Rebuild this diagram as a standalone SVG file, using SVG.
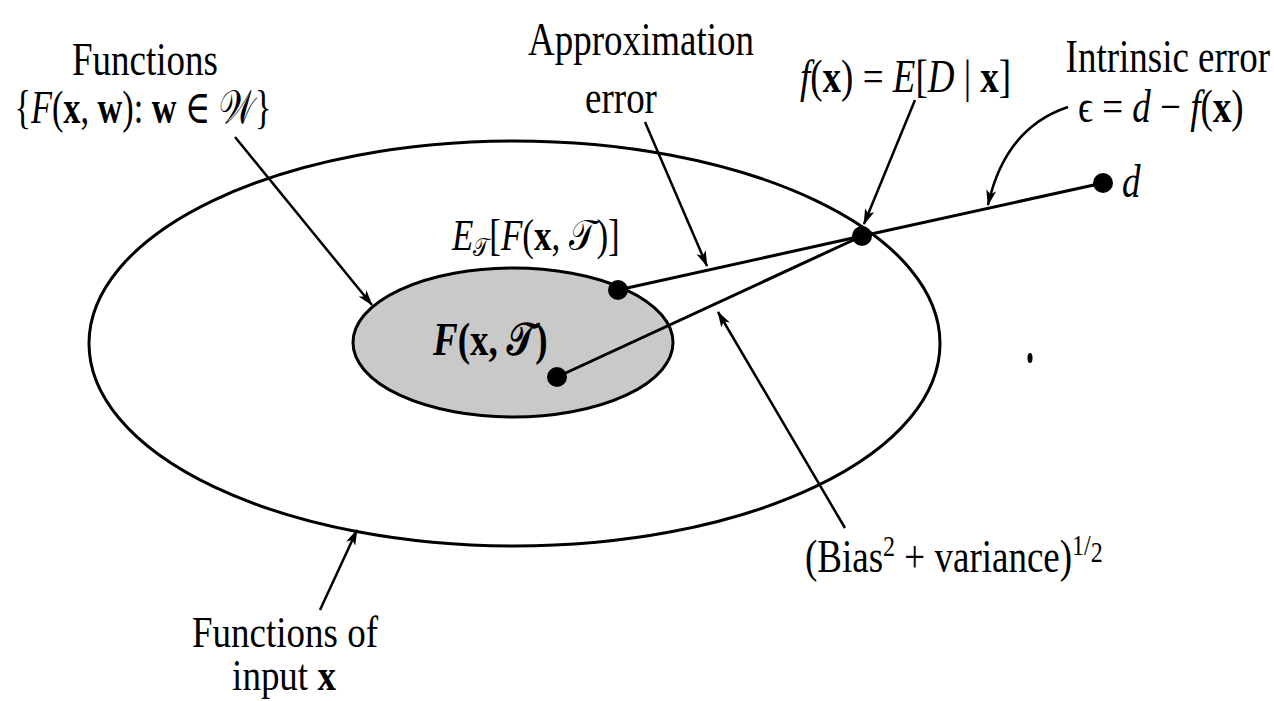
<svg xmlns="http://www.w3.org/2000/svg" width="1274" height="701" viewBox="0 0 1274 701">
<style>
text{font-family:"Liberation Serif","DejaVu Serif",serif;font-size:37px;fill:#000}
.i{font-style:italic}
.b{font-weight:bold}
.sm{font-size:24px}
.line{stroke:#000;stroke-width:3;fill:none}
.arr{stroke:#000;stroke-width:2.5;fill:none;marker-end:url(#ah)}
.dot{fill:#000}
</style>
<defs>
<marker id="ah" viewBox="0 0 16 10" refX="15" refY="5" markerWidth="16" markerHeight="10" markerUnits="userSpaceOnUse" orient="auto">
<path d="M0,0 L16,5 L0,10 L4,5 z" fill="#000"/>
</marker>
</defs>
<rect width="1274" height="701" fill="#fff"/>
<g id="outer-set">
<ellipse cx="514.5" cy="343.5" rx="425.5" ry="202.5" class="line"/>
</g>
<g id="inner-set">
<ellipse cx="513" cy="342.5" rx="160" ry="74.5" fill="#c9c9c9" stroke="#000" stroke-width="3"/>
<text transform="translate(433,355) scale(1,1.25)"><tspan class="i b">F</tspan><tspan class="b">(</tspan><tspan class="b">x</tspan><tspan class="b">, 𝒯)</tspan></text>
</g>
<g id="connectors">
<line x1="618" y1="290" x2="862" y2="236" class="line" stroke-width="2.5"/>
<line x1="557" y1="377" x2="862" y2="236" class="line" stroke-width="2.5"/>
<line x1="862" y1="236" x2="1103" y2="183" class="line" stroke-width="2.5"/>
<path d="M235,137 L372,305" class="arr"/>
<path d="M645,122 L707,266" class="arr"/>
<path d="M915,100 L864,224" class="arr"/>
<path d="M1068,107 Q1005,128 988,205" class="arr"/>
<path d="M845,528 L718,312" class="arr"/>
<path d="M320,610 L357,530" class="arr"/>
</g>
<g id="point-mean"><circle cx="618" cy="290" r="10" class="dot"/></g>
<g id="point-F"><circle cx="557" cy="377" r="10" class="dot"/></g>
<g id="point-f"><circle cx="862" cy="236" r="10" class="dot"/></g>
<g id="point-d"><circle cx="1103" cy="183" r="10" class="dot"/>
<text transform="translate(1122,197) scale(1,1.25)" class="i">d</text></g>
<g id="speck"><ellipse cx="1030" cy="358" rx="2.5" ry="5" fill="#000"/></g>
<g id="label-functions">
<text transform="translate(145,75) scale(1,1.25)" text-anchor="middle">Functions</text>
<text transform="translate(143,123) scale(1,1.25)" text-anchor="middle" textLength="257" lengthAdjust="spacingAndGlyphs">{<tspan class="i">F</tspan>(<tspan class="b">x</tspan>, <tspan class="b">w</tspan>): <tspan class="b">w</tspan> ∈ 𝒲}</text>
</g>
<g id="label-approx">
<text transform="translate(641,55) scale(1,1.25)" text-anchor="middle">Approximation</text>
<text transform="translate(621,113) scale(1,1.25)" text-anchor="middle">error</text>
</g>
<g id="label-f">
<text transform="translate(800,92) scale(1,1.25)"><tspan class="i">f</tspan>(<tspan class="b">x</tspan>) = <tspan class="i">E</tspan>[<tspan class="i">D</tspan> | <tspan class="b">x</tspan>]</text>
</g>
<g id="label-intrinsic">
<text transform="translate(1270,72) scale(1,1.25)" text-anchor="end">Intrinsic error</text>
<text transform="translate(1078,122) scale(1,1.25)">ϵ = <tspan class="i">d</tspan> − <tspan class="i">f</tspan>(<tspan class="b">x</tspan>)</text>
</g>
<g id="label-mean">
<text transform="translate(452,250) scale(1,1.25)" style="font-size:35px"><tspan class="i">E</tspan><tspan style="font-size:21px" dy="5">𝒯</tspan><tspan dy="-5">[</tspan><tspan class="i">F</tspan>(<tspan class="b">x</tspan>, 𝒯)]</text>
</g>
<g id="label-bias">
<text transform="translate(805,572) scale(1,1.25)">(Bias<tspan class="sm" dy="-13">2</tspan><tspan dy="13"> + variance)</tspan><tspan class="sm" dy="-14">1</tspan><tspan class="sm">/</tspan><tspan class="sm" dy="6">2</tspan></text>
</g>
<g id="label-input">
<text transform="translate(285,647) scale(1,1.22)" text-anchor="middle">Functions of</text>
<text transform="translate(284,690) scale(1,1.22)" text-anchor="middle">input <tspan class="b">x</tspan></text>
</g>
</svg>
